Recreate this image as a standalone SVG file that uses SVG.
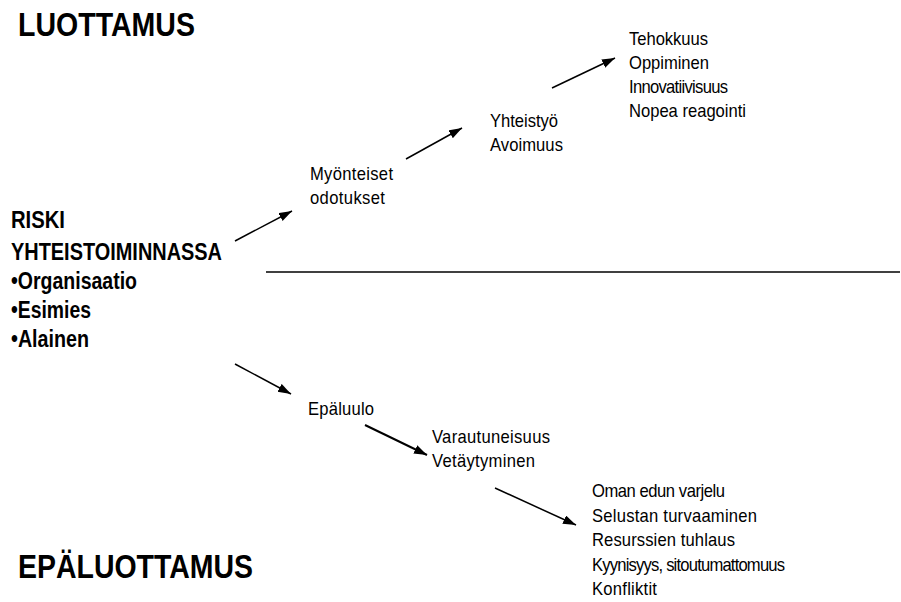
<svg xmlns="http://www.w3.org/2000/svg" width="901" height="602" viewBox="0 0 901 602">
  <style>
    .title { font-family: "Liberation Sans", Arial, sans-serif; font-weight: bold; font-size: 34px; fill: #000; }
    .risk { font-family: "Liberation Sans", Arial, sans-serif; font-weight: bold; font-size: 23px; fill: #000; }
    .lbl { font-family: "Liberation Sans", Arial, sans-serif; font-size: 17.5px; fill: #000; }
    .conn { stroke: #000; stroke-width: 1.5; fill: none; marker-end: url(#arrow); }
    .divider { stroke: #000; stroke-width: 1.3; }
  </style>
  <defs>
    <marker id="arrow" markerUnits="userSpaceOnUse" markerWidth="14" markerHeight="10" refX="13" refY="4.5" orient="auto">
      <path d="M0,0 L13,4.5 L0,9 z" fill="#000"/>
    </marker>
  </defs>

  <rect width="901" height="602" fill="#fff"/>

  <!-- headings -->
  <g id="luottamus">
    <text class="title" x="18" y="36" textLength="177" lengthAdjust="spacingAndGlyphs">LUOTTAMUS</text>
  </g>
  <g id="epaluottamus">
    <text class="title" x="18" y="578" textLength="235" lengthAdjust="spacingAndGlyphs">EPÄLUOTTAMUS</text>
  </g>

  <!-- divider between trust and distrust -->
  <line class="divider" x1="266" y1="272" x2="900" y2="272"/>

  <!-- risk source -->
  <g id="riski">
    <text class="risk" x="11" y="228" textLength="54" lengthAdjust="spacingAndGlyphs">RISKI</text>
    <text class="risk" x="11" y="260" textLength="211" lengthAdjust="spacingAndGlyphs">YHTEISTOIMINNASSA</text>
    <text class="risk" x="11" y="289" textLength="126" lengthAdjust="spacingAndGlyphs">•Organisaatio</text>
    <text class="risk" x="11" y="318" textLength="80" lengthAdjust="spacingAndGlyphs">•Esimies</text>
    <text class="risk" x="11" y="347" textLength="78" lengthAdjust="spacingAndGlyphs">•Alainen</text>
  </g>

  <!-- trust path: labels use a slightly condensed face (x scale 0.95) -->
  <g id="myonteiset">
    <text class="lbl" transform="translate(310 180) scale(0.95 1)" textLength="87.4" lengthAdjust="spacing">Myönteiset</text>
    <text class="lbl" transform="translate(310 204) scale(0.95 1)" textLength="78.9" lengthAdjust="spacing">odotukset</text>
  </g>
  <g id="yhteistyo">
    <text class="lbl" transform="translate(490 127) scale(0.95 1)" textLength="71.6" lengthAdjust="spacing">Yhteistyö</text>
    <text class="lbl" transform="translate(490 151) scale(0.95 1)" textLength="76.8" lengthAdjust="spacing">Avoimuus</text>
  </g>
  <g id="tehokkuus">
    <text class="lbl" transform="translate(629 45) scale(0.95 1)" textLength="83.2" lengthAdjust="spacing">Tehokkuus</text>
    <text class="lbl" transform="translate(629 69) scale(0.95 1)" textLength="84.2" lengthAdjust="spacing">Oppiminen</text>
    <text class="lbl" transform="translate(629 93) scale(0.95 1)" textLength="104.2" lengthAdjust="spacing">Innovatiivisuus</text>
    <text class="lbl" transform="translate(629 117) scale(0.95 1)" textLength="123.2" lengthAdjust="spacing">Nopea reagointi</text>
  </g>

  <!-- distrust path -->
  <g id="epaluulo">
    <text class="lbl" transform="translate(308 415) scale(0.95 1)" textLength="69.5" lengthAdjust="spacing">Epäluulo</text>
  </g>
  <g id="varautuneisuus">
    <text class="lbl" transform="translate(432 443) scale(0.95 1)" textLength="124.2" lengthAdjust="spacing">Varautuneisuus</text>
    <text class="lbl" transform="translate(432 467) scale(0.95 1)" textLength="108.4" lengthAdjust="spacing">Vetäytyminen</text>
  </g>
  <g id="seuraukset">
    <text class="lbl" transform="translate(592 497) scale(0.95 1)" textLength="140" lengthAdjust="spacing">Oman edun varjelu</text>
    <text class="lbl" transform="translate(592 521.5) scale(0.95 1)" textLength="173.7" lengthAdjust="spacing">Selustan turvaaminen</text>
    <text class="lbl" transform="translate(592 546) scale(0.95 1)" textLength="150.5" lengthAdjust="spacing">Resurssien tuhlaus</text>
    <text class="lbl" transform="translate(592 570.5) scale(0.95 1)" textLength="203.2" lengthAdjust="spacing">Kyynisyys, sitoutumattomuus</text>
    <text class="lbl" transform="translate(592 595) scale(0.95 1)" textLength="68.4" lengthAdjust="spacing">Konfliktit</text>
  </g>

  <!-- connectors -->
  <g id="connectors">
    <line class="conn" x1="235" y1="241" x2="292" y2="211"/>
    <line class="conn" x1="406" y1="159" x2="462" y2="128"/>
    <line class="conn" x1="552" y1="88" x2="615" y2="58"/>
    <line class="conn" x1="235" y1="364" x2="291" y2="394"/>
    <line class="conn" x1="365" y1="425" x2="427" y2="455" style="stroke-width:2"/>
    <line class="conn" x1="495" y1="488" x2="576" y2="525"/>
  </g>
</svg>
